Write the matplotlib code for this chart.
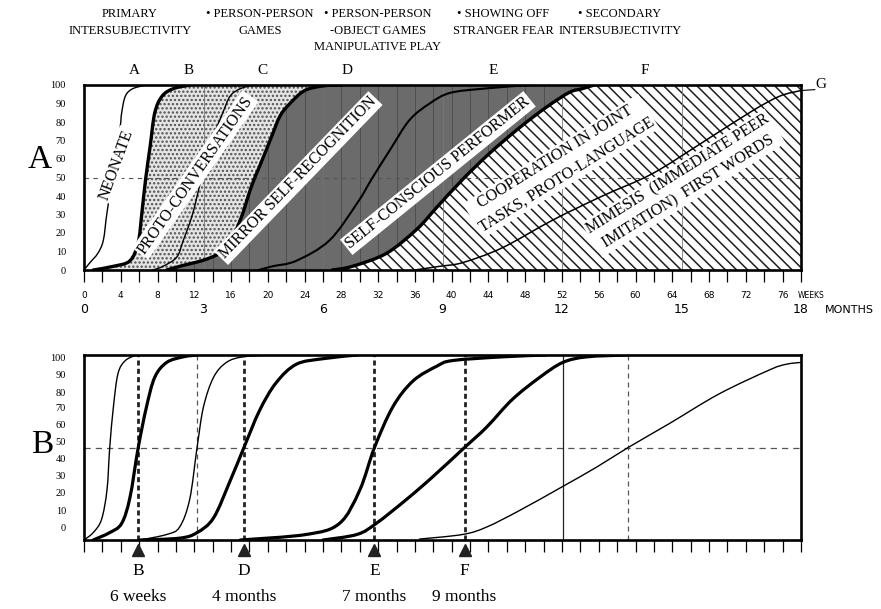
import numpy as np
import matplotlib
matplotlib.use("Agg")
import matplotlib.pyplot as plt
from matplotlib.path import Path
from matplotlib.patches import PathPatch
from matplotlib import font_manager

# ---------------- DATA ----------------
week_ticks = list(range(0, 79, 2))
week_labels = list(range(0, 77, 4))
month_labels = [0, 3, 6, 9, 12, 15, 18]
month_weeks = [0, 13, 26, 39, 52, 65, 78]
pct_labels = list(range(0, 101, 10))

# panel A curves (weeks, percent)
a_A_w = [0, 0.65, 1.5, 2.1, 2.5, 3.1, 3.9, 4.1, 4.5, 5.3, 6.8]
a_A_p = [0, 4, 9, 16, 31, 50, 76, 85, 94, 98, 100]
a_B_w = [1.0, 3.2, 5.0, 5.9, 6.3, 6.7, 7.2, 7.7, 8.5, 9.7, 11.5]
a_B_p = [0, 2, 5, 15, 31, 49, 67, 85, 94, 98, 100]
a_C_w = [7.5, 8.6, 10.1, 10.8, 11.8, 12.8, 13.9, 15.1, 15.9, 17.0, 18.4]
a_C_p = [0, 2, 7, 16, 30, 50, 70, 85, 94, 98, 100]
a_D_w = [9.0, 10.4, 13.4, 15.5, 17.0, 18.2, 19.1, 20.4, 21.3, 22.4, 24.0, 26.0, 28.0]
a_D_p = [0, 2, 6, 12, 27, 45, 56, 72, 83, 90, 97, 99.5, 100]
a_E_w = [19.0, 20.5, 23.1, 26.7, 29.7, 31.4, 33.3, 35.4, 37.6, 39.8, 43.4, 48.5]
a_E_p = [0, 2, 5, 16, 36, 50, 65, 81, 90, 95.7, 98, 100]
a_F_w = [27.0, 29.2, 32.9, 36.2, 38.4, 41.2, 44.1, 47.4, 50.3, 52.8, 54.2, 55.5]
a_F_p = [0, 2, 9, 22, 34, 49, 63, 77, 88, 96, 98, 100]
a_G_w = [36.0, 38.7, 41.2, 45.5, 51.0, 56.4, 61.8, 67.3, 72.7, 75.7, 78.0]
a_G_p = [0, 2, 4, 12, 27, 40, 52, 69, 86, 94, 97]

# panel B curves (weeks, percent of box height)
b_A_w = [0, 1.0, 1.9, 2.5, 2.8, 3.2, 3.7, 4.5, 5.7]
b_A_p = [0, 4, 11, 27, 50, 72, 90, 97, 100]
b_B_w = [1.0, 2.8, 4.1, 5.0, 5.9, 6.8, 7.7, 9.0, 10.8, 12.3]
b_B_p = [0, 4, 9, 23, 50, 72, 88, 96, 99, 100]
b_C_w = [6.1, 9.0, 10.4, 11.5, 12.3, 13.0, 14.1, 15.5, 17.3, 20.5]
b_C_p = [0, 3, 7, 22, 50, 72, 88, 96, 99, 100]
b_D_w = [6.1, 10.4, 12.3, 14.1, 15.9, 17.4, 19.1, 20.9, 23.1, 26.0, 29.7]
b_D_p = [0, 1, 4, 12, 32, 50, 70, 85, 95, 98, 100]
b_E_w = [17.0, 24.2, 27.8, 30.0, 31.6, 33.6, 35.8, 38.4, 40.1, 45.5, 50.3]
b_E_p = [0, 3, 9, 27, 50, 72, 86, 94, 97, 99, 100]
b_F_w = [26.0, 29.7, 31.8, 35.1, 37.9, 41.4, 43.8, 46.6, 49.6, 52.1, 54.7, 59.0]
b_F_p = [0, 3, 9, 22, 34, 50, 61, 76, 88, 96, 99, 100]
b_G_w = [36.5, 41.2, 43.8, 47.4, 52.1, 55.8, 59.2, 63.7, 69.1, 74.6, 76.4, 78.0]
b_G_p = [0.5, 3, 7, 16, 29, 39.5, 50, 63, 79, 92, 95, 96]

# panel B guide lines and milestones
b_thick_marks = [5.9, 17.4, 31.6, 41.4]
b_thin_dashed = [12.3, 59.2]
b_thin_solid = [52.1]
milestone_letters = ["B", "D", "E", "F"]
milestone_texts = ["6 weeks", "4 months", "7 months", "9 months"]

stage_letters = ["A", "B", "C", "D", "E", "F"]
stage_weeks = [5.5, 11.4, 19.4, 28.6, 44.5, 61.0]

header_texts = ["PRIMARY\nINTERSUBJECTIVITY",
                "\u2022 PERSON-PERSON\nGAMES",
                "\u2022 PERSON-PERSON\n-OBJECT GAMES\nMANIPULATIVE PLAY",
                "\u2022 SHOWING OFF\nSTRANGER FEAR",
                "\u2022 SECONDARY\nINTERSUBJECTIVITY"]

# ---------------- STYLE ----------------
names = {f.name for f in font_manager.fontManager.ttflist}
serif = "Liberation Serif" if "Liberation Serif" in names else "DejaVu Serif"
narrow = "Liberation Sans Narrow" if "Liberation Sans Narrow" in names else "DejaVu Sans"
plt.rcParams["font.family"] = serif
plt.rcParams["hatch.linewidth"] = 1.1

W, H = 881, 609
fig = plt.figure(figsize=(W / 100, H / 100), dpi=100)


def px_axes(l, t, r, b):
    return fig.add_axes([l / W, 1 - b / H, (r - l) / W, (b - t) / H])


def smooth(xs, ys):
    p = np.column_stack([xs, ys]).astype(float)
    q = np.vstack([p[:1], p, p[-1:]])
    verts, codes = [p[0]], [Path.MOVETO]
    for i in range(len(p) - 1):
        verts += [q[i + 1] + (q[i + 2] - q[i]) / 6,
                  q[i + 2] - (q[i + 3] - q[i + 1]) / 6,
                  q[i + 2]]
        codes += [Path.CURVE4] * 3
    return verts, codes


def region(lx, ly, rx, ry):
    v1, c1 = smooth(lx, ly)
    v2, c2 = smooth(rx[::-1], ry[::-1])
    c2[0] = Path.LINETO
    return Path(v1 + v2 + [v1[0]], c1 + c2 + [Path.CLOSEPOLY])


def draw_curve(ax, xs, ys, lw):
    v, c = smooth(xs, ys)
    ax.add_patch(PathPatch(Path(v, c), fill=False, lw=lw, ec="black",
                           zorder=3, capstyle="round"))


axA = px_axes(84, 85, 801, 270)
axB = px_axes(84, 355, 801, 540)

for ax in (axA, axB):
    ax.set_xlim(0, 78)
    ax.set_ylim(0, 100)
    for s in ax.spines.values():
        s.set_linewidth(1.9)
        s.set_zorder(4)
    ax.set_xticks(week_ticks)
    ax.tick_params(axis="x", direction="out", length=8.5, width=0.9,
                   labelbottom=False)
    ax.tick_params(axis="y", length=0, pad=13, labelsize=7.5)

# ---------------- PANEL A ----------------
axA.set_yticks(pct_labels)

dotted = PathPatch(region(a_B_w, a_B_p, a_D_w, a_D_p), fc="#e4e4e4",
                   ec="#505050", lw=0, hatch="....", zorder=1)
axA.add_patch(dotted)
dark = PathPatch(region(a_D_w, a_D_p, a_F_w, a_F_p), fc="#6b6b6b",
                 ec="none", zorder=1)
axA.add_patch(dark)
vl = axA.vlines(week_ticks, 0, 100, colors="#4f4f4f", lw=0.7, zorder=1.2)
vl.set_clip_path(dark)
hatched = PathPatch(region(a_F_w, a_F_p, [78, 78], [0, 100]), fc="white",
                    ec="#1e1e1e", lw=0, hatch="\\\\\\", zorder=1)
axA.add_patch(hatched)

for w in month_weeks[1:-1]:
    axA.axvline(w, color="#777777", lw=0.6, zorder=1.5)
axA.axhline(50, color="#555555", lw=0.8, ls=(0, (4, 4)), zorder=1.5)

draw_curve(axA, a_A_w, a_A_p, 1.0)
draw_curve(axA, a_B_w, a_B_p, 2.4)
draw_curve(axA, a_C_w, a_C_p, 1.0)
draw_curve(axA, a_D_w, a_D_p, 2.4)
draw_curve(axA, a_E_w, a_E_p, 1.5)
draw_curve(axA, a_F_w, a_F_p, 2.4)
draw_curve(axA, a_G_w, a_G_p, 1.1)

box = dict(boxstyle="square,pad=0.12", fc="white", ec="none")
band_labels = [("NEONATE", 3.5, 56.8, 70),
               ("PROTO-CONVERSATIONS", 12.1, 51.4, 55),
               ("MIRROR SELF-RECOGNITION", 23.3, 49.7, 46),
               ("SELF-CONSCIOUS PERFORMER", 38.5, 52.4, 39),
               ("COOPERATION IN JOINT\nTASKS, PROTO-LANGUAGE", 51.9, 56.2, 32),
               ("MIMESIS  (IMMEDIATE PEER\nIMITATION)  FIRST WORDS", 65.2, 47.0, 32)]
for txt, x, y, rot in band_labels:
    axA.text(x, y, txt, rotation=rot, rotation_mode="anchor", ha="center",
             va="center", fontsize=11.5, linespacing=1.4, bbox=box, zorder=5)

for letter, w in zip(stage_letters, stage_weeks):
    axA.text(w, 108, letter, ha="center", va="center", fontsize=11,
             clip_on=False)
axA.plot([78, 79.5], [97, 97.5], color="black", lw=0.8, clip_on=False)
axA.text(79.6, 100, "G", ha="left", va="center", fontsize=11, clip_on=False)

for w in week_labels:
    axA.text(w, -14, str(w), ha="center", va="center", fontsize=6.5,
             family=narrow, clip_on=False)
axA.text(77.6, -14, "WEEKS", ha="left", va="center", fontsize=5.5,
         family=narrow, clip_on=False)
for m, w in zip(month_labels, month_weeks):
    axA.text(w, -21.5, str(m), ha="center", va="center", fontsize=9,
             family=narrow, clip_on=False)
axA.text(80.6, -21.5, "MONTHS", ha="left", va="center", fontsize=8,
         family=narrow, clip_on=False)

# ---------------- PANEL B ----------------
b_label_pos = [7.0, 16.2, 25.9, 35.1, 44.3, 53.0, 62.2, 71.4, 80.0, 89.7, 98.9]
axB.set_yticks(b_label_pos)
axB.set_yticklabels([str(v) for v in pct_labels])

axB.axhline(50, color="#555555", lw=0.9, ls=(0, (5, 4)), zorder=1.5)
for w in b_thick_marks:
    axB.axvline(w, color="#222222", lw=2.0, ls=(0, (1.8, 1.2)), zorder=2)
for w in b_thin_dashed:
    axB.axvline(w, color="#555555", lw=0.9, ls=(0, (4, 3.2)), zorder=2)
for w in b_thin_solid:
    axB.axvline(w, color="#222222", lw=0.9, zorder=2)

draw_curve(axB, b_A_w, b_A_p, 1.0)
draw_curve(axB, b_B_w, b_B_p, 2.3)
draw_curve(axB, b_C_w, b_C_p, 1.0)
draw_curve(axB, b_D_w, b_D_p, 2.3)
draw_curve(axB, b_E_w, b_E_p, 2.3)
draw_curve(axB, b_F_w, b_F_p, 2.3)
draw_curve(axB, b_G_w, b_G_p, 1.0)

axB.plot(b_thick_marks, [-5.4] * len(b_thick_marks), ls="none", marker="^",
         ms=9, color="#222222", clip_on=False, zorder=5)
for w, letter, txt in zip(b_thick_marks, milestone_letters, milestone_texts):
    axB.text(w, -16.5, letter, ha="center", va="center", fontsize=12.5,
             clip_on=False)
    axB.text(w, -31, txt, ha="center", va="center", fontsize=12.5,
             clip_on=False)

# ---------------- FIGURE TEXT ----------------
for txt, x in zip(header_texts, [130, 260, 378, 503, 620]):
    fig.text(x / W, 1 - 8 / H, txt, ha="center", va="top", fontsize=9,
             linespacing=1.5, multialignment="center")

fig.text(40 / W, 1 - 160 / H, "A", ha="center", va="center", fontsize=24)
fig.text(42 / W, 1 - 445 / H, "B", ha="center", va="center", fontsize=24)

fig.savefig("out.png", dpi=100)
